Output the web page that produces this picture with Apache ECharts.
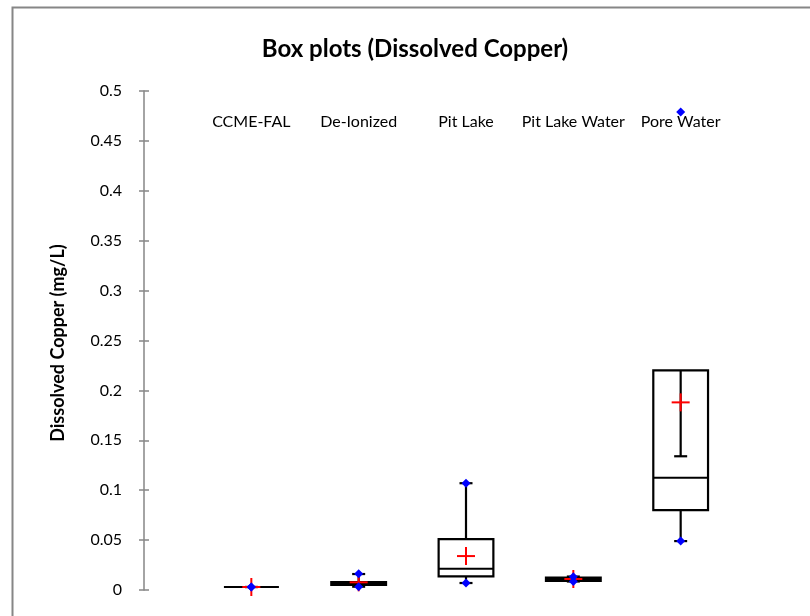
<!DOCTYPE html>
<html>
<head>
<meta charset="utf-8">
<script src="https://cdn.jsdelivr.net/npm/echarts@6/dist/echarts.min.js"></script>
<style>html,body{margin:0;padding:0;background:#fff;}#c{width:810px;height:616px;}</style>
</head>
<body>
<div id="c"></div>
<script>
const categories = ['CCME-FAL', 'De-Ionized', 'Pit Lake', 'Pit Lake Water', 'Pore Water'];
const minPoints    = [0.003, 0.0033, 0.007, 0.0085, 0.049];
const whiskerLow   = [0.003, 0.0033, 0.007, 0.0085, 0.049];
const q1Values     = [0.003, 0.005, 0.0137, 0.009, 0.080];
const medianValues = [0.003, 0.0065, 0.0213, 0.011, 0.1125];
const q3Values     = [0.003, 0.008, 0.051, 0.0125, 0.220];
const whiskerHigh  = [0.003, 0.016, 0.107, 0.0135, 0.134];
const maxPoints    = [0.003, 0.0163, 0.107, 0.0133, 0.479];
const meanValues   = [0.003, 0.0077, 0.034, 0.011, 0.188];
const yTicks = [0, 0.05, 0.1, 0.15, 0.2, 0.25, 0.3, 0.35, 0.4, 0.45, 0.5];

const rows = categories.map((c, i) => [i + 1, minPoints[i], whiskerLow[i], q1Values[i], medianValues[i], q3Values[i], whiskerHigh[i], maxPoints[i], meanValues[i]]);

const chart = echarts.init(document.getElementById('c'));
const FONT = 'Lato, "Open Sans", sans-serif';

function renderItem(params, api) {
  const x = api.value(0);
  const p = v => api.coord([x, v]);
  const bw = api.size([1, 0])[0] * 0.51;
  const capW = 13;
  const cx = p(api.value(3))[0];
  const yMinP = p(api.value(1))[1];
  const yWL = p(api.value(2))[1];
  const yQ1 = p(api.value(3))[1];
  const yMed = p(api.value(4))[1];
  const yQ3 = p(api.value(5))[1];
  const yWH = p(api.value(6))[1];
  const yMaxP = p(api.value(7))[1];
  const yMean = p(api.value(8))[1];
  const blk = { stroke: '#000', lineWidth: 2.2, fill: null };
  const red = { stroke: '#ff0000', lineWidth: 2 };
  const diamond = (y) => ({
    type: 'polygon',
    shape: { points: [[cx, y - 4.5], [cx + 4.5, y], [cx, y + 4.5], [cx - 4.5, y]] },
    style: { fill: '#0000ff' }
  });
  const children = [
    { type: 'rect', shape: { x: cx - bw / 2, y: yQ3, width: bw, height: yQ1 - yQ3 }, style: blk },
    { type: 'line', shape: { x1: cx - bw / 2, y1: yMed, x2: cx + bw / 2, y2: yMed }, style: blk },
    { type: 'line', shape: { x1: cx, y1: yQ1, x2: cx, y2: yWL }, style: blk },
    { type: 'line', shape: { x1: cx, y1: yQ3, x2: cx, y2: yWH }, style: blk },
    { type: 'line', shape: { x1: cx - capW / 2, y1: yWL, x2: cx + capW / 2, y2: yWL }, style: blk },
    { type: 'line', shape: { x1: cx - capW / 2, y1: yWH, x2: cx + capW / 2, y2: yWH }, style: blk },
    { type: 'line', shape: { x1: cx - 9, y1: yMean, x2: cx + 9, y2: yMean }, style: red },
    { type: 'line', shape: { x1: cx, y1: yMean - 9, x2: cx, y2: yMean + 9 }, style: red },
    diamond(yMinP),
    diamond(yMaxP)
  ];
  return { type: 'group', children };
}

chart.setOption({
  animation: false,
  backgroundColor: '#fff',
  title: {
    text: 'Box plots (Dissolved Copper)',
    left: 410, top: 32, textAlign: 'center',
    textStyle: { fontFamily: FONT, fontWeight: 'bold', fontSize: 24, color: '#000' }
  },
  graphic: [
    { type: 'rect', left: 10, top: 5, shape: { width: 900, height: 700 }, style: { fill: null, stroke: '#868686', lineWidth: 2 }, silent: true, z: -1 },
    { type: 'text', x: 58, y: 343, rotation: Math.PI / 2,
      style: { text: 'Dissolved Copper (mg/L)', font: 'bold 18px ' + FONT, fill: '#000', align: 'center', verticalAlign: 'middle' } }
  ],
  grid: { left: 144, top: 91, right: 22, bottom: 26, containLabel: false },
  xAxis: {
    type: 'value', min: 0, max: 6, interval: 1, position: 'top',
    axisLine: { show: false }, axisTick: { show: false }, splitLine: { show: false },
    axisLabel: {
      inside: true, margin: 23,
      formatter: v => categories[v - 1] || '',
      fontFamily: FONT, fontSize: 16, color: '#000'
    }
  },
  yAxis: [
    {
      type: 'value', min: 0, max: 0.5, interval: 0.05,
      axisLine: { show: true, lineStyle: { color: '#868686', width: 1.5 } },
      axisTick: { show: true, length: 5, lineStyle: { color: '#868686', width: 1.5 } },
      splitLine: { show: false },
      axisLabel: {
        margin: 22, fontFamily: FONT, fontSize: 16, color: '#000',
        formatter: v => { const t = yTicks.find(k => Math.abs(k - v) < 1e-9); return t === undefined ? '' : String(t); }
      }
    },
    {
      type: 'value', min: 0, max: 0.5, interval: 0.05, position: 'left',
      axisLine: { show: false },
      axisTick: { show: true, inside: true, length: 5, lineStyle: { color: '#868686', width: 1.5 } },
      axisLabel: { show: false }, splitLine: { show: false }
    }
  ],
  series: [{
    type: 'custom',
    renderItem,
    data: rows,
    encode: { x: 0, y: [1, 2, 3, 4, 5, 6, 7, 8] },
    clip: false,
    z: 5
  }]
});
</script>
</body>
</html>
